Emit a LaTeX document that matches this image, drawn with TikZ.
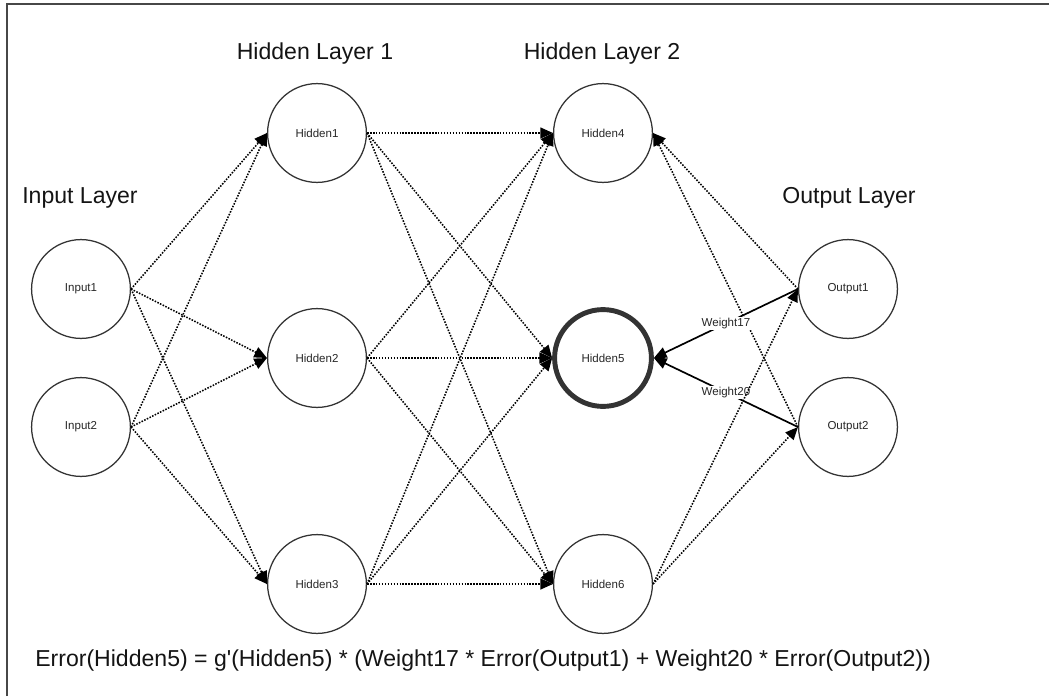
\documentclass[tikz,border=0pt]{standalone}
\usepackage{fontspec}
\setmainfont{Liberation Sans}
\usetikzlibrary{arrows.meta,positioning}

\begin{document}
\begin{tikzpicture}[
  x=0.025cm, y=-0.025cm,
  >={Triangle[length=9pt,width=7.8pt]},
  neuron/.style={draw=black!80, line width=0.9pt, circle, minimum size=2.47cm, inner sep=0pt, font=\fontsize{8.2}{10}\selectfont, text=black!85},
  layer/.style={anchor=base, inner sep=0pt, font=\fontsize{16.4}{19}\selectfont, text=black!92},
  arr/.style={->, line width=1.1pt, dash pattern=on 1.1pt off 1pt},
  wgt/.style={->, line width=1.2pt},
  wlabel/.style={fill=white, inner sep=1pt, font=\fontsize{8.2}{10}\selectfont, text=black!85}
]
\useasboundingbox (0,0) rectangle (1049,696);
\draw[line width=1.5pt, black!72] (7,696) -- (7,4) -- (1049,4);

\node[neuron] (in1) at (81,289) {Input1};
\node[neuron] (in2) at (81,427) {Input2};
\node[neuron] (hid1) at (317,133) {Hidden1};
\node[neuron] (hid2) at (317,358) {Hidden2};
\node[neuron] (hid3) at (317,584) {Hidden3};
\node[neuron] (hid4) at (603,133) {Hidden4};
\node[neuron, line width=3.5pt, minimum size=2.42cm] (hid5) at (603,358) {Hidden5};
\node[neuron] (hid6) at (603,584) {Hidden6};
\node[neuron] (out1) at (848,289) {Output1};
\node[neuron] (out2) at (848,427) {Output2};

\node[layer] (titlein) at (80,203) {Input Layer};
\node[layer] (title1) at (315,60) {Hidden Layer 1};
\node[layer] (title2) at (602,60) {Hidden Layer 2};
\node[layer] (titleout) at (849,203) {Output Layer};
\node[layer, anchor=base west] (eqn) at (35,666) {Error(Hidden5) = g\textquotesingle(Hidden5) * (Weight17 * Error(Output1) + Weight20 * Error(Output2))};

\draw[arr] (in1.east) -- (hid1.west);
\draw[arr] (in1.east) -- (hid2.west);
\draw[arr] (in1.east) -- (hid3.west);
\draw[arr] (in2.east) -- (hid1.west);
\draw[arr] (in2.east) -- (hid2.west);
\draw[arr] (in2.east) -- (hid3.west);
\draw[arr] (hid1.east) -- (hid4.west);
\draw[arr] (hid1.east) -- (hid5.west);
\draw[arr] (hid1.east) -- (hid6.west);
\draw[arr] (hid2.east) -- (hid4.west);
\draw[arr] (hid2.east) -- (hid5.west);
\draw[arr] (hid2.east) -- (hid6.west);
\draw[arr] (hid3.east) -- (hid4.west);
\draw[arr] (hid3.east) -- (hid5.west);
\draw[arr] (hid3.east) -- (hid6.west);
% errors flow back into Hidden4 and Hidden5
\draw[arr] (out1.west) -- (hid4.east);
\draw[arr] (out2.west) -- (hid4.east);
\draw[wgt] (out1.west) -- node[wlabel] (w17) {Weight17} (hid5.east);
\draw[wgt] (out2.west) -- node[wlabel] (w20) {Weight20} (hid5.east);
\draw[arr] (hid6.east) -- (out1.west);
\draw[arr] (hid6.east) -- (out2.west);
\end{tikzpicture}
\end{document}
